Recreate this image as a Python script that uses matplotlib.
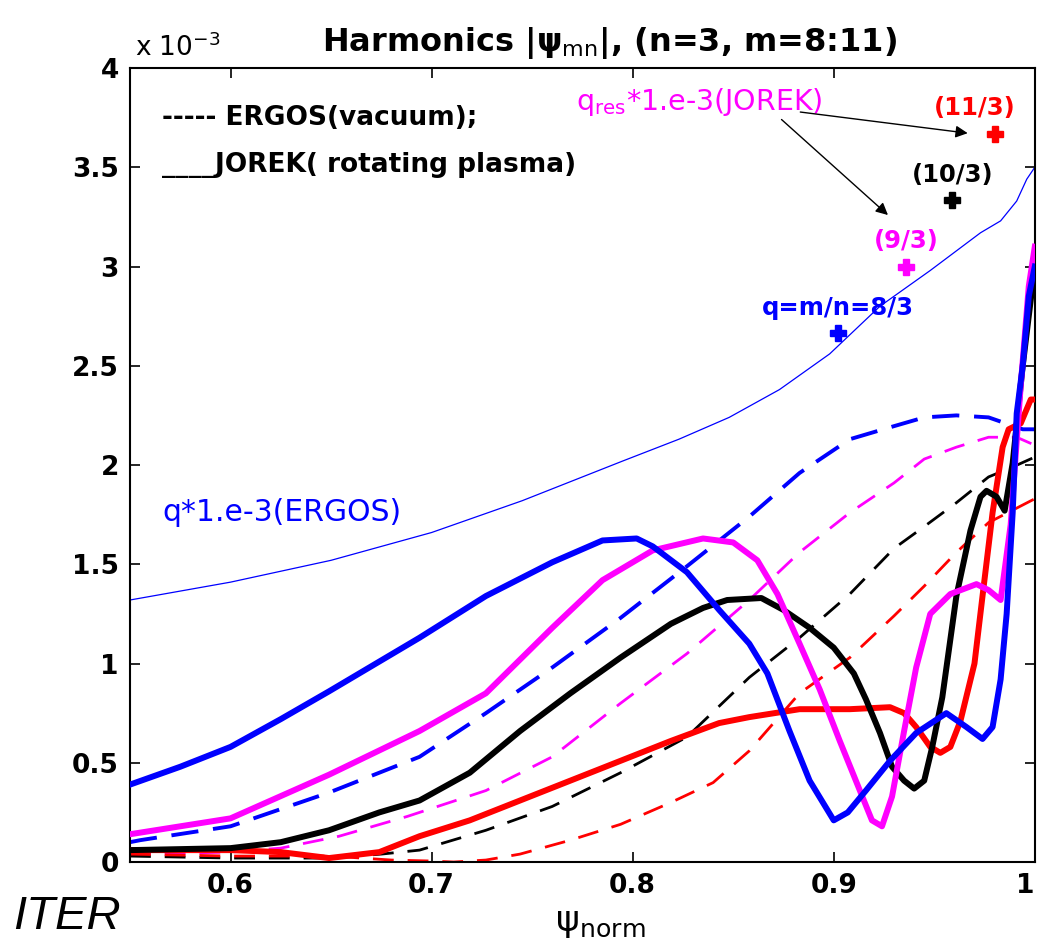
import numpy as np
import matplotlib
matplotlib.use("Agg")
import matplotlib.pyplot as plt

plt.rcParams['font.family'] = ['DejaVu Sans']
plt.rcParams['mathtext.fontset'] = 'dejavusans'

# all amplitudes in units of 1e-3
# q profile (ERGOS) * 1e-3
q_x = [0.55, 0.60, 0.65, 0.70, 0.745, 0.795, 0.823, 0.848, 0.873, 0.898, 0.923, 0.948, 0.973, 0.983, 0.991, 0.996, 1.0]
q_y = [1.32, 1.41, 1.52, 1.66, 1.82, 2.02, 2.13, 2.24, 2.38, 2.56, 2.80, 2.98, 3.17, 3.23, 3.33, 3.44, 3.50]

# JOREK (rotating plasma), m = 8, 9, 10, 11
j8_x = [0.55, 0.575, 0.60, 0.625, 0.649, 0.694, 0.727, 0.760, 0.785, 0.802, 0.810, 0.827, 0.843, 0.858, 0.867, 0.878, 0.888, 0.900,
        0.907, 0.916, 0.928, 0.941, 0.956, 0.966, 0.974, 0.979, 0.983, 0.986, 0.989, 0.991, 0.994, 0.997, 1.0]
j8_y = [0.39, 0.48, 0.58, 0.72, 0.86, 1.13, 1.34, 1.51, 1.62, 1.63, 1.59, 1.46, 1.27, 1.10, 0.95, 0.66, 0.41, 0.21,
        0.25, 0.36, 0.51, 0.65, 0.75, 0.68, 0.62, 0.68, 0.92, 1.25, 1.76, 2.26, 2.50, 2.85, 3.00]

j9_x = [0.55, 0.60, 0.649, 0.694, 0.727, 0.760, 0.785, 0.810, 0.835, 0.850, 0.862, 0.872, 0.883, 0.893, 0.903, 0.913,
        0.919, 0.924, 0.929, 0.935, 0.941, 0.948, 0.958, 0.971, 0.977, 0.983, 0.988, 0.993, 0.997, 1.0]
j9_y = [0.14, 0.22, 0.44, 0.66, 0.85, 1.18, 1.42, 1.57, 1.63, 1.61, 1.52, 1.35, 1.10, 0.87, 0.61, 0.36,
        0.21, 0.18, 0.33, 0.66, 0.98, 1.25, 1.35, 1.40, 1.37, 1.32, 1.70, 2.40, 2.90, 3.10]

j10_x = [0.55, 0.60, 0.625, 0.649, 0.674, 0.694, 0.719, 0.744, 0.769, 0.794, 0.819, 0.835, 0.847, 0.864, 0.875, 0.888,
         0.900, 0.910, 0.916, 0.923, 0.929, 0.935, 0.940, 0.945, 0.949, 0.954, 0.961, 0.968, 0.973, 0.976, 0.981,
         0.985, 0.989, 0.994, 1.0]
j10_y = [0.06, 0.07, 0.10, 0.16, 0.25, 0.31, 0.45, 0.66, 0.85, 1.03, 1.20, 1.28, 1.32, 1.33, 1.27, 1.18,
         1.08, 0.95, 0.82, 0.65, 0.48, 0.41, 0.37, 0.41, 0.58, 0.83, 1.34, 1.67, 1.84, 1.87, 1.84,
         1.77, 2.01, 2.50, 3.00]

j11_x = [0.55, 0.60, 0.625, 0.649, 0.674, 0.694, 0.719, 0.744, 0.769, 0.794, 0.819, 0.843, 0.858, 0.883, 0.908, 0.928,
         0.935, 0.941, 0.948, 0.953, 0.958, 0.963, 0.970, 0.974, 0.979, 0.984, 0.987, 0.993, 0.998, 1.0]
j11_y = [0.06, 0.06, 0.05, 0.02, 0.05, 0.13, 0.21, 0.31, 0.41, 0.51, 0.61, 0.70, 0.73, 0.77, 0.77, 0.78,
         0.75, 0.68, 0.58, 0.55, 0.58, 0.71, 1.00, 1.34, 1.76, 2.09, 2.18, 2.21, 2.33, 2.33]

# ERGOS (vacuum), m = 8, 9, 10, 11
e8_x = [0.55, 0.555, 0.60, 0.649, 0.694, 0.727, 0.760, 0.794, 0.827, 0.858, 0.883, 0.908, 0.928, 0.945, 0.961, 0.977, 0.994, 1.0]
e8_y = [0.10, 0.11, 0.18, 0.35, 0.53, 0.75, 0.98, 1.23, 1.49, 1.74, 1.96, 2.13, 2.19, 2.24, 2.25, 2.24, 2.18, 2.18]

e9_x = [0.55, 0.60, 0.625, 0.654, 0.688, 0.727, 0.760, 0.794, 0.827, 0.858, 0.883, 0.908, 0.930, 0.945, 0.961, 0.977, 0.991, 1.0]
e9_y = [0.04, 0.05, 0.07, 0.13, 0.23, 0.36, 0.53, 0.80, 1.05, 1.32, 1.56, 1.76, 1.91, 2.03, 2.09, 2.14, 2.14, 2.10]

e10_x = [0.55, 0.60, 0.65, 0.675, 0.694, 0.727, 0.760, 0.794, 0.827, 0.858, 0.883, 0.908, 0.930, 0.945, 0.961, 0.977, 0.989, 1.0]
e10_y = [0.03, 0.02, 0.02, 0.04, 0.06, 0.16, 0.28, 0.45, 0.63, 0.93, 1.13, 1.35, 1.58, 1.69, 1.81, 1.94, 1.99, 2.04]

e11_x = [0.55, 0.60, 0.65, 0.68, 0.70, 0.711, 0.727, 0.744, 0.769, 0.794, 0.819, 0.840, 0.858, 0.883, 0.908, 0.930, 0.945, 0.961, 0.977, 1.0]
e11_y = [0.04, 0.03, 0.03, 0.01, 0.005, 0.0, 0.01, 0.04, 0.11, 0.19, 0.30, 0.40, 0.56, 0.85, 1.03, 1.24, 1.39, 1.56, 1.71, 1.83]

# resonant surfaces q = m/n (JOREK), * 1e-3
res_x = [0.902, 0.936, 0.959, 0.980]
res_y = [8/3, 9/3, 10/3, 11/3]
res_labels = ['q=m/n=8/3', '(9/3)', '(10/3)', '(11/3)']

x_ticks = [0.6, 0.7, 0.8, 0.9, 1.0]
x_ticklabels = ['0.6', '0.7', '0.8', '0.9', '1']
y_ticks = [0, 0.5, 1, 1.5, 2, 2.5, 3, 3.5, 4]
y_ticklabels = ['0', '0.5', '1', '1.5', '2', '2.5', '3', '3.5', '4']

colors = ['#0000ff', '#ff00ff', '#000000', '#ff0000']

fig = plt.figure(figsize=(10.4, 9.5), dpi=100)
ax = fig.add_axes([0.125, 0.0926, 0.870, 0.8358])

ax.plot(q_x, q_y, color='#0000ff', lw=0.9)

ergos = [(e8_x, e8_y, 2.8, (7, 3.8)), (e9_x, e9_y, 2.0, (7.5, 5)),
         (e10_x, e10_y, 2.0, (7.5, 5)), (e11_x, e11_y, 2.0, (7.5, 5))]
for (x, y, lw, dash), c in zip(ergos, colors):
    ax.plot(x, y, color=c, lw=lw, ls=(0, dash))

jorek = [(j8_x, j8_y), (j9_x, j9_y), (j10_x, j10_y), (j11_x, j11_y)]
for i in [3, 2, 1, 0]:
    x, y = jorek[i]
    ax.plot(x, y, color=colors[i], lw=4.3, solid_joinstyle='round', zorder=3 + (3 - i) * 0.1)

for x, y, c in zip(res_x, res_y, colors):
    ax.plot(x, y, marker='P', ms=12, color=c, mec=c, zorder=5)

label_pos = [(0.902, 2.73), (0.936, 3.07), (0.959, 3.40), (0.970, 3.74)]
for (lx, ly), c, t in zip(label_pos, colors, res_labels):
    ax.text(lx, ly, t, color=c, fontsize=17.5, fontweight='bold', ha='center', va='bottom')

ax.text(0.772, 3.83, r'q$_{\mathrm{res}}$*1.e-3(JOREK)', color='#ff00ff', fontsize=20.5, ha='left', va='center')
ax.annotate('', xy=(0.928, 3.25), xytext=(0.873, 3.75),
            arrowprops=dict(arrowstyle='-|>', color='black', lw=1.0, mutation_scale=18))
ax.annotate('', xy=(0.968, 3.67), xytext=(0.882, 3.78),
            arrowprops=dict(arrowstyle='-|>', color='black', lw=1.0, mutation_scale=18))

ax.text(0.566, 3.75, '----- ERGOS(vacuum);', fontsize=19, fontweight='bold', va='center')
ax.text(0.566, 3.51, '____JOREK( rotating plasma)', fontsize=19, fontweight='bold', va='center')
ax.text(0.566, 1.76, 'q*1.e-3(ERGOS)', color='#0000ff', fontsize=21.5, va='center')

ax.set_xlim(0.55, 1.0)
ax.set_ylim(0, 4)
ax.set_xticks(x_ticks)
ax.set_xticklabels(x_ticklabels)
ax.set_yticks(y_ticks)
ax.set_yticklabels(y_ticklabels)
ax.tick_params(direction='in', top=True, right=True, length=7, width=1.2,
               labelsize=19, pad=8)
for lab in ax.get_xticklabels() + ax.get_yticklabels():
    lab.set_fontweight('bold')
ax.get_xticklabels()[-1].set_horizontalalignment('right')
for s in ax.spines.values():
    s.set_linewidth(1.5)

ax.set_title('Harmonics |ψ$_{\\mathrm{mn}}$|, (n=3, m=8:11)', fontsize=23, fontweight='bold', pad=12, x=0.53)
fig.text(0.13, 0.935, r'x 10$^{-3}$', fontsize=19, ha='left', va='bottom')
ax.set_xlabel('ψ$_{\\mathrm{norm}}$', fontsize=26, labelpad=4)
ax.xaxis.set_label_coords(0.52, -0.055)
fig.text(0.013, 0.035, 'ITER', fontsize=34, style='italic', ha='left', va='center',
         family='Liberation Sans')

fig.savefig('out.png', dpi=100)
